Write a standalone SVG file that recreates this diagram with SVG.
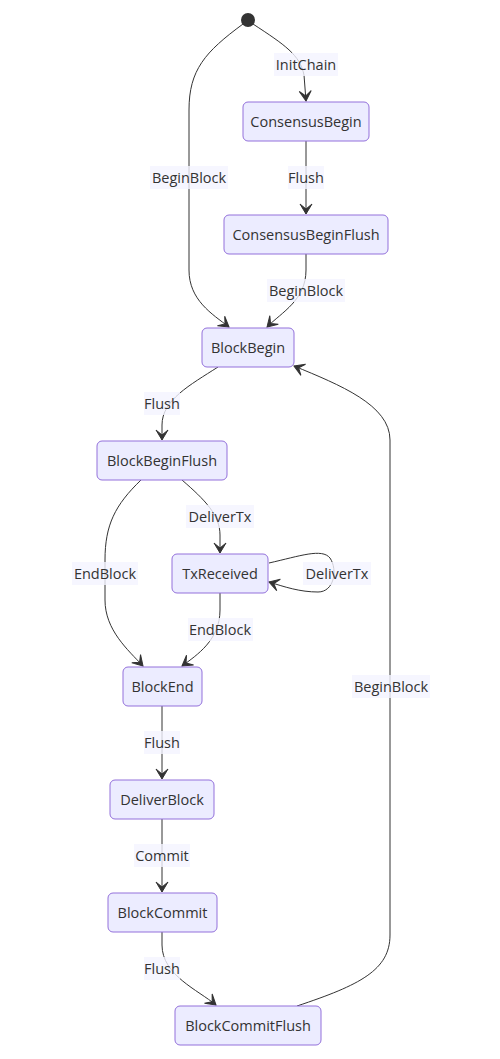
<svg xmlns="http://www.w3.org/2000/svg" width="500" height="1059" viewBox="0 0 500 1059">
<style>
.node rect{fill:#ECECFF;stroke:#9370DB;stroke-width:1}
.node text,.lbl text{font-family:"Open Sans","Liberation Sans",sans-serif;font-size:14.5px;fill:#333;text-anchor:middle;dominant-baseline:central}
.lbl rect{fill:#f4f4ff;opacity:0.8}
.edge{fill:none;stroke:#333;stroke-width:1}
</style>
<defs>
<marker id="arr" viewBox="0 0 20 14" refX="19" refY="7" markerWidth="20" markerHeight="14" markerUnits="userSpaceOnUse" orient="auto">
<path d="M19,7 L9,13 L14,7 L9,1 Z" fill="#333" stroke="#333" stroke-width="1"/>
</marker>
</defs>
<rect width="500" height="1059" fill="#fff"/>
<g id="connectors">
<path class="edge" d="M253,24 C285,45 300,55 304,75 L306,101" marker-end="url(#arr)"/>
<path class="edge" d="M243,24 C205,52 189,70 189,110 L189,270 C189,300 212,314 229,327" marker-end="url(#arr)"/>
<path class="edge" d="M306,141 L306,214" marker-end="url(#arr)"/>
<path class="edge" d="M306,254 L306,270 C306,300 282,312 267,327" marker-end="url(#arr)"/>
<path class="edge" d="M218,367 C190,385 162,400 162,425 L162,440" marker-end="url(#arr)"/>
<path class="edge" d="M297,1006 C360,985 390,970 390,935 L390,440 C390,405 340,385 294,366" marker-end="url(#arr)"/>
<path class="edge" d="M182,480 C205,500 220,515 220,535 L220,553" marker-end="url(#arr)"/>
<path class="edge" d="M141,480 C115,505 105,525 105,560 L105,600 C105,630 128,650 143,666" marker-end="url(#arr)"/>
<path class="edge" d="M269,563 C300,556 322,548 330,558 C338,570 334,592 318,592 C300,592 285,587 269,582" marker-end="url(#arr)"/>
<path class="edge" d="M220,593 L220,610 C220,640 197,655 182,666" marker-end="url(#arr)"/>
<path class="edge" d="M162,706 L162,779" marker-end="url(#arr)"/>
<path class="edge" d="M162,819 L162,892" marker-end="url(#arr)"/>
<path class="edge" d="M162,932 L162,945 C162,975 198,990 216,1005" marker-end="url(#arr)"/>
</g>
<g id="labels">
<g class="lbl"><rect x="274" y="53" width="64" height="23"/><text x="306" y="64.5">InitChain</text></g>
<g class="lbl"><rect x="150" y="166" width="78" height="23"/><text x="189" y="177.5">BeginBlock</text></g>
<g class="lbl"><rect x="288" y="166" width="36" height="23"/><text x="306" y="177.5">Flush</text></g>
<g class="lbl"><rect x="267" y="279" width="78" height="23"/><text x="306" y="290.5">BeginBlock</text></g>
<g class="lbl"><rect x="144" y="392" width="36" height="23"/><text x="162" y="403.5">Flush</text></g>
<g class="lbl"><rect x="186" y="505" width="68" height="23"/><text x="220" y="516.5">DeliverTx</text></g>
<g class="lbl"><rect x="72" y="562" width="66" height="23"/><text x="105" y="573.5">EndBlock</text></g>
<g class="lbl"><rect x="303" y="562" width="68" height="23"/><text x="337" y="573.5">DeliverTx</text></g>
<g class="lbl"><rect x="188" y="618" width="65" height="23"/><text x="220" y="629.5">EndBlock</text></g>
<g class="lbl"><rect x="352" y="675" width="78" height="23"/><text x="391" y="686.5">BeginBlock</text></g>
<g class="lbl"><rect x="144" y="731" width="36" height="23"/><text x="162" y="742.5">Flush</text></g>
<g class="lbl"><rect x="134" y="844" width="56" height="23"/><text x="162" y="855.5">Commit</text></g>
<g class="lbl"><rect x="144" y="957" width="36" height="23"/><text x="162" y="968.5">Flush</text></g>
</g>
<g id="start"><circle cx="248" cy="20" r="7" fill="#333"/></g>
<g id="ConsensusBegin" class="node"><rect x="243" y="102" width="126" height="39" rx="5"/><text x="306" y="121.5">ConsensusBegin</text></g>
<g id="ConsensusBeginFlush" class="node"><rect x="224" y="215" width="164" height="39" rx="5"/><text x="306" y="234.5">ConsensusBeginFlush</text></g>
<g id="BlockBegin" class="node"><rect x="202" y="328" width="92" height="39" rx="5"/><text x="248" y="347.5">BlockBegin</text></g>
<g id="BlockBeginFlush" class="node"><rect x="97" y="441" width="130" height="39" rx="5"/><text x="162" y="460.5">BlockBeginFlush</text></g>
<g id="TxReceived" class="node"><rect x="172" y="554" width="96" height="39" rx="5"/><text x="220" y="573.5">TxReceived</text></g>
<g id="BlockEnd" class="node"><rect x="123" y="667" width="79" height="39" rx="5"/><text x="162.5" y="686.5">BlockEnd</text></g>
<g id="DeliverBlock" class="node"><rect x="110" y="780" width="104" height="39" rx="5"/><text x="162" y="799.5">DeliverBlock</text></g>
<g id="BlockCommit" class="node"><rect x="108" y="893" width="109" height="39" rx="5"/><text x="162.5" y="912.5">BlockCommit</text></g>
<g id="BlockCommitFlush" class="node"><rect x="175" y="1006" width="146" height="39" rx="5"/><text x="248" y="1025.5">BlockCommitFlush</text></g>
</svg>
